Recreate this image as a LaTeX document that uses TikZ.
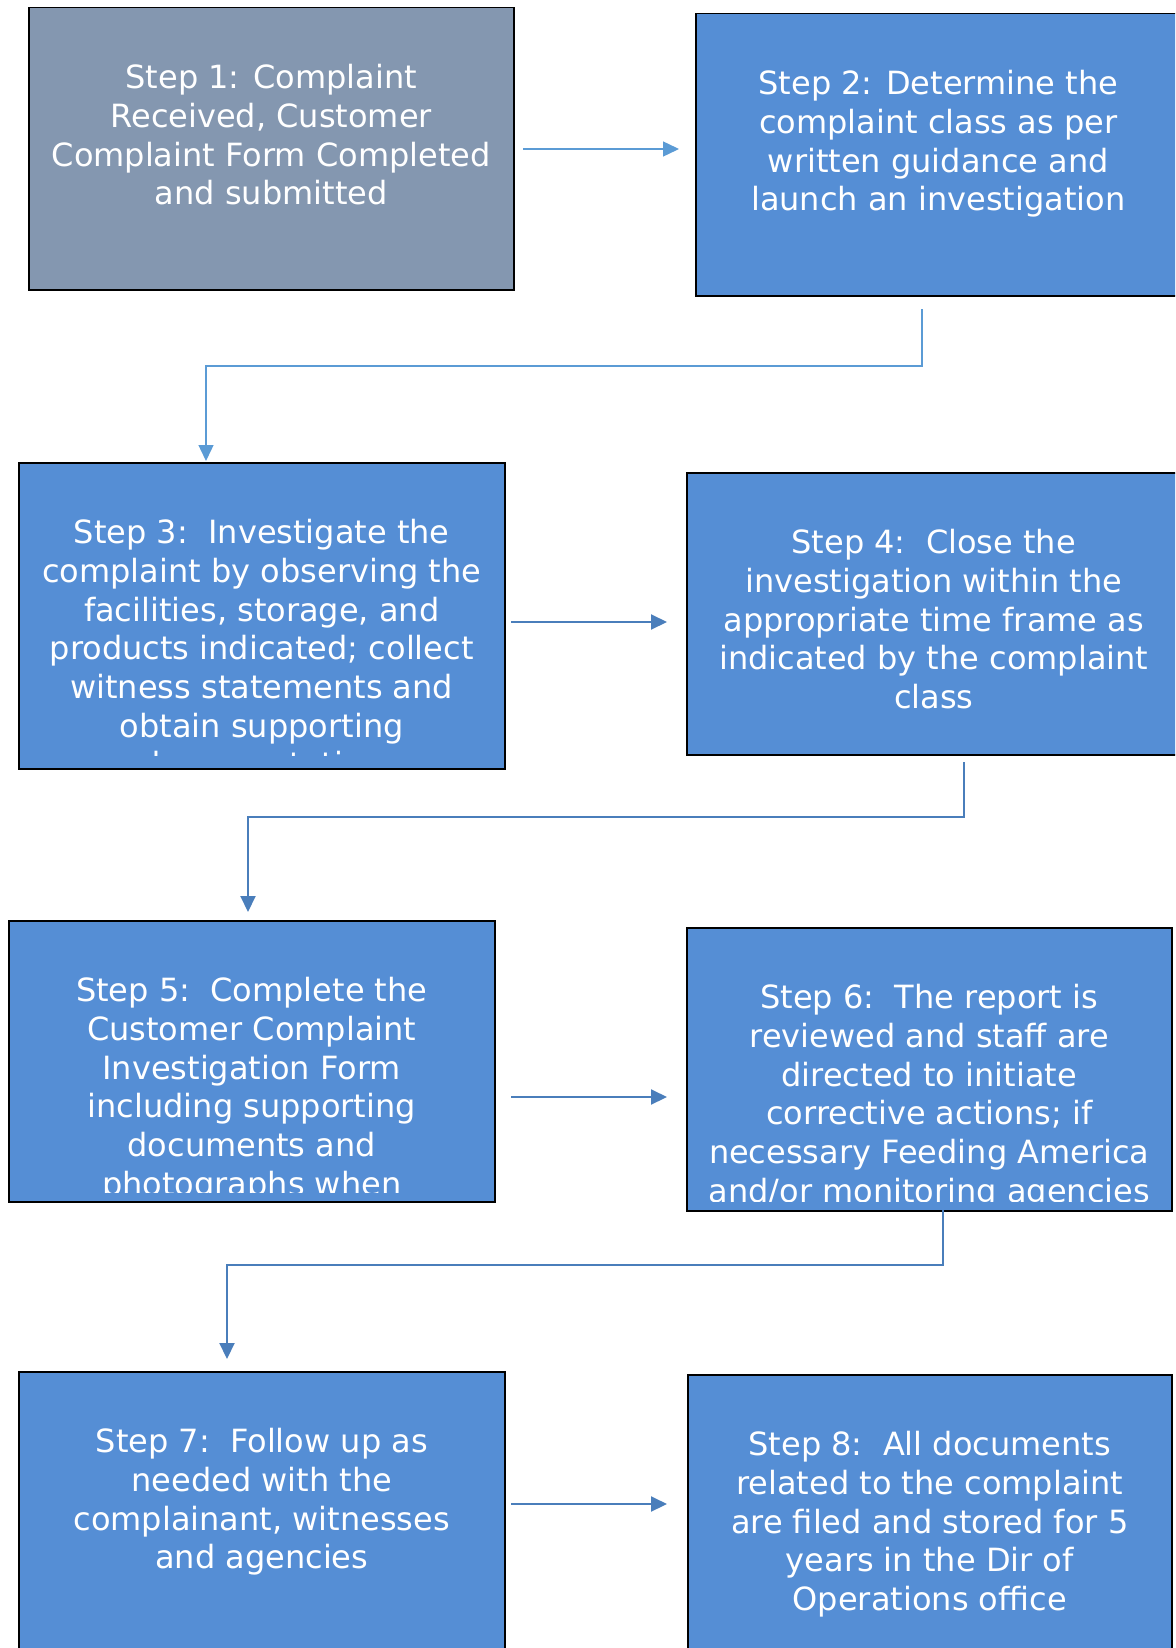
\documentclass[tikz,border=0pt]{standalone}
\usepackage{fontspec}
\setmainfont{DejaVu Sans}
\usetikzlibrary{arrows.meta}

\definecolor{stepblue}{HTML}{558ED5}
\definecolor{stepgray}{HTML}{8497B0}
\definecolor{linklight}{HTML}{5B9BD5}
\definecolor{linkdark}{HTML}{4A7EBB}

\tikzset{
  stepbox/.style={draw=black, line width=.75pt, fill=stepblue, anchor=north west,
    inner sep=0pt, minimum width=243pt, minimum height=141pt},
  steptext/.style={text=white, align=center, anchor=north, inner sep=0pt,
    font=\fontsize{16}{19.35}\selectfont},
  lightlink/.style={draw=linklight, line width=.7pt, -{Triangle[length=8pt,width=7.5pt]}},
  darklink/.style={draw=linkdark, line width=1pt, -{Triangle[length=8pt,width=7.5pt]}}
}

\begin{document}
\begin{tikzpicture}[x=.5pt, y=-.5pt]
			\clip (0,0) rectangle (1175,1648);
			\fill[white] (0,0) rectangle (1175,1648);

			% boxes
			\node[stepbox, fill=stepgray, minimum width=242.5pt] (s1) at (28,7) {};
			\node[stepbox, minimum width=242.5pt] (s2) at (695,13) {};
			\node[stepbox, minimum height=153pt] (s3) at (18,462) {};
			\node[stepbox, minimum width=247pt] (s4) at (686,472) {};
			\node[stepbox, minimum height=140.5pt] (s5) at (8,920) {};
			\node[stepbox, minimum width=242.5pt, minimum height=141.5pt] (s6) at (686,927) {};
			\node[stepbox, minimum height=150pt] (s7) at (18,1371) {};
			\node[stepbox, minimum width=242pt, minimum height=150pt] (s8) at (687,1374) {};

			% texts
			\node[steptext] (t1) at ([yshift=-28.5pt]s1.north) {Step 1: Complaint\\Received, Customer\\Complaint Form Completed\\and submitted};
			\node[steptext] (t2) at ([yshift=-28.5pt]s2.north) {Step 2: Determine the\\complaint class as per\\written guidance and\\launch an investigation};
			\begin{scope}
				\clip ([yshift=7pt]s3.south west) rectangle (s3.north east);
				\node[steptext] (t3) at ([yshift=-28.5pt]s3.north) {Step 3:\ \ Investigate the\\complaint by observing the\\facilities, storage, and\\products indicated; collect\\witness statements and\\obtain supporting\\documentation};
			\end{scope}
			\node[steptext] (t4) at ([yshift=-28.5pt]s4.north) {Step 4:\ \ Close the\\investigation within the\\appropriate time frame as\\indicated by the complaint\\class};
			\begin{scope}
				\clip ([yshift=5pt]s5.south west) rectangle (s5.north east);
				\node[steptext] (t5) at ([yshift=-28.5pt]s5.north) {Step 5:\ \ Complete the\\Customer Complaint\\Investigation Form\\including supporting\\documents and\\photographs when};
			\end{scope}
			\begin{scope}
				\clip ([yshift=5pt]s6.south west) rectangle (s6.north east);
				\node[steptext] (t6) at ([yshift=-28.5pt]s6.north) {Step 6:\ \ The report is\\reviewed and staff are\\directed to initiate\\corrective actions; if\\necessary Feeding America\\and/or monitoring agencies};
			\end{scope}
			\node[steptext] (t7) at ([yshift=-28.5pt]s7.north) {Step 7:\ \ Follow up as\\needed with the\\complainant, witnesses\\and agencies};
			\node[steptext] (t8) at ([yshift=-28.5pt]s8.north) {Step 8:\ \ All documents\\related to the complaint\\are filed and stored for 5\\years in the Dir of\\Operations office};

			% arrows between the columns
			\coordinate (a1) at (523,149);
			\coordinate (a3) at (511,622);
			\coordinate (a5) at (511,1097);
			\coordinate (a7) at (511,1504);
			\draw[lightlink, shorten >=8pt] (a1) -- (a1 -| s2.west);
			\draw[darklink, shorten >=9.5pt] (a3) -- (a3 -| s4.west);
			\draw[darklink, shorten >=9.5pt] (a5) -- (a5 -| s6.west);
			\draw[darklink, shorten >=10pt] (a7) -- (a7 -| s8.west);

			% links down to the next row
			\coordinate (k2) at (922,309);
			\coordinate (k3) at (206,366);
			\coordinate (k4) at (964,762);
			\coordinate (k5) at (248,817);
			\coordinate (k6) at (943,1210);
			\coordinate (k7) at (227,1265);
			\draw[lightlink, shorten >=.5pt] (k2) |- (k3) -- (k3 |- s3.north);
			\draw[darklink, shorten >=4pt] (k4) |- (k5) -- (k5 |- s5.north);
			\draw[darklink, shorten >=6pt] (k6) |- (k7) -- (k7 |- s7.north);
		\end{tikzpicture}
\end{document}
